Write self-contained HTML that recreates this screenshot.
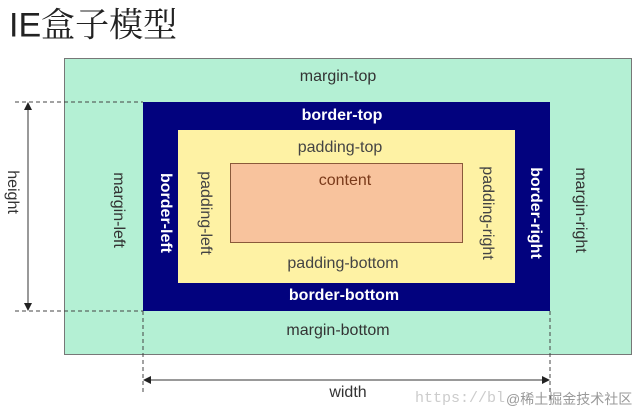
<!DOCTYPE html>
<html><head><meta charset="utf-8"><style>
body{margin:0;width:640px;height:417px;background:#fff;position:relative;overflow:hidden;font-family:"Liberation Sans","DejaVu Sans",sans-serif;}
.a{position:absolute;box-sizing:border-box}
.t{position:absolute;font-size:16px;white-space:nowrap;transform:translate(-50%,-50%)}
.v{transform:translate(-50%,-50%) rotate(90deg)}
</style></head><body>
<div class="t" style="top:22px;transform:translateY(-50%);left:9px;font-size:34px;font-family:'Liberation Sans','Noto Serif CJK SC',serif;color:#222">IE盒子模型</div>
<div class="a" style="left:64px;top:58px;width:568px;height:297px;background:#b4f0d4;border:1px solid #777"></div>
<div class="a" style="left:143px;top:102px;width:407px;height:209px;background:#02027e"></div>
<div class="a" style="left:178px;top:130px;width:337px;height:153px;background:#fef2a4"></div>
<div class="a" style="left:230px;top:163px;width:233px;height:80px;background:#f8c39d;border:1px solid #8a5a3a"></div>
<div class="t" style="left:338px;top:77px;color:#333">margin-top</div>
<div class="t" style="left:338px;top:331px;color:#333">margin-bottom</div>
<div class="t v" style="left:118px;top:210px;color:#333">margin-left</div>
<div class="t v" style="left:580px;top:210px;color:#333">margin-right</div>
<div class="t" style="left:342px;top:116px;color:#fff;font-weight:bold">border-top</div>
<div class="t" style="left:344px;top:296px;color:#fff;font-weight:bold">border-bottom</div>
<div class="t v" style="left:165px;top:213px;color:#fff;font-weight:bold">border-left</div>
<div class="t v" style="left:535px;top:213px;color:#fff;font-weight:bold">border-right</div>
<div class="t" style="left:340px;top:148px;color:#444">padding-top</div>
<div class="t" style="left:343px;top:264px;color:#444">padding-bottom</div>
<div class="t v" style="left:205px;top:213px;color:#444">padding-left</div>
<div class="t v" style="left:487px;top:213px;color:#444">padding-right</div>
<div class="t" style="left:345px;top:181px;color:#7a3a1a">content</div>
<svg class="a" style="left:0;top:0" width="640" height="417">
<g stroke="#444" stroke-width="1" stroke-dasharray="4,3" fill="none">
<line x1="15" y1="102" x2="143" y2="102"/><line x1="15" y1="311" x2="143" y2="311"/>
<line x1="143" y1="311" x2="143" y2="395"/><line x1="550" y1="311" x2="550" y2="400"/>
</g>
<g stroke="#333" stroke-width="1">
<line x1="28" y1="106" x2="28" y2="307"/><line x1="147" y1="380" x2="546" y2="380"/>
</g>
<g fill="#222">
<polygon points="28,102 24,110 32,110"/><polygon points="28,311 24,303 32,303"/>
<polygon points="143,380 151,376 151,384"/><polygon points="550,380 542,376 542,384"/>
</g>
</svg>
<div class="t v" style="left:12px;top:192px;color:#333">height</div>
<div class="t" style="left:348px;top:393px;color:#333">width</div>
<div class="a" style="left:415px;top:390px;font-size:15px;color:#ccc;white-space:nowrap;font-family:'Liberation Mono',monospace">https://bl</div>
<div class="a" style="left:506px;top:389px;font-size:14px;color:#999;white-space:nowrap;font-family:'Liberation Sans','Noto Sans CJK SC',sans-serif">@稀土掘金技术社区</div>
</body></html>
